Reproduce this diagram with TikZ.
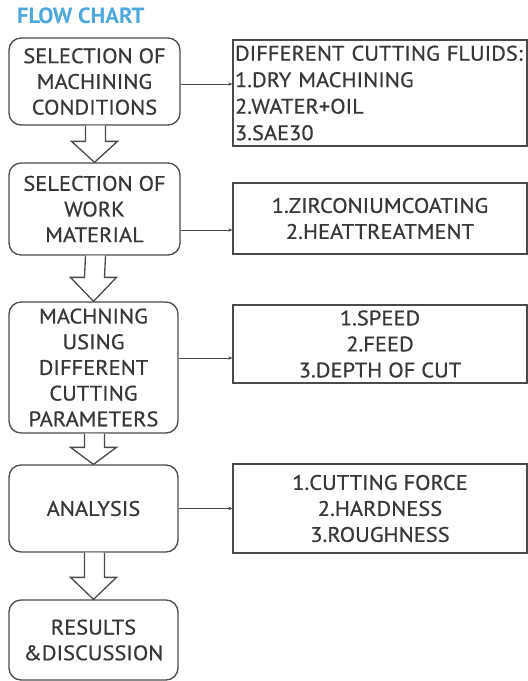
\documentclass[tikz,border=0pt]{standalone}
\usepackage{fontspec}
\setmainfont[FakeBold=0.6,FakeStretch=1.07]{PT Sans}
\newfontfamily\titlefont[FakeStretch=1.03]{PT Sans}
\usetikzlibrary{calc,arrows.meta}
\definecolor{txt}{HTML}{383838}
\definecolor{edge}{HTML}{4A4A4A}
\definecolor{ttl}{HTML}{4DA9DC}
\tikzset{
  stepbox/.style={draw=edge, line width=1.3pt, rounded corners=12pt, inner sep=0pt,
    text=txt, align=center, font=\fontsize{21}{25.7}\selectfont},
  infobox/.style={draw=edge, line width=1.3pt, inner sep=0pt, text=txt,
    font=\fontsize{21}{26}\selectfont},
  conn/.style={draw=edge, line width=0.7pt, -{Stealth[length=4pt,width=3.5pt]}},
  blockarrow/.style={draw=edge, line width=1.3pt, line join=miter, fill=white},
}
\begin{document}
\begin{tikzpicture}[x=1pt,y=1pt]
\useasboundingbox (0,0) rectangle (528,-681);
\fill[white] (0,0) rectangle (528,-681);

\node[anchor=west, text=ttl, font=\titlefont\fontsize{22}{26}\selectfont\bfseries, inner sep=0pt] (title) at (17,-16) {FLOW CHART};

% left column
\node[stepbox, minimum width=171pt, minimum height=87pt] (b1) at (94.5,-81.5) {SELECTION OF\\MACHINING\\CONDITIONS};
\node[stepbox, minimum width=171pt, minimum height=92pt] (b2) at (94.5,-209) {SELECTION OF\\WORK\\MATERIAL};
\node[stepbox, minimum width=169pt, minimum height=131pt] (b3) at (93.5,-367.5) {MACHNING\\USING\\DIFFERENT\\CUTTING\\PARAMETERS};
\node[stepbox, minimum width=169pt, minimum height=87pt] (b4) at (93.5,-508.5) {ANALYSIS};
\node[stepbox, minimum width=169pt, minimum height=80pt] (b5) at (93.5,-640) {RESULTS\\\&DISCUSSION};

% right column
\node[infobox, font=\fontsize{21}{26.5}\selectfont, minimum width=294pt, minimum height=106pt, align=left, text width=290pt, inner xsep=2pt] (r1) at (380,-93) {DIFFERENT CUTTING FLUIDS:\\1.DRY MACHINING\\2.WATER+OIL\\3.SAE30};
\node[infobox, minimum width=294pt, minimum height=71pt, align=center] (r2) at (380,-218.5) {1.ZIRCONIUMCOATING\\2.HEATTREATMENT};
\node[infobox, minimum width=294pt, minimum height=78pt, align=center] (r3) at (380,-344) {1.SPEED\\2.FEED\\3.DEPTH OF CUT};
\node[infobox, minimum width=294pt, minimum height=89pt, align=center] (r4) at (380,-508.5) {1.CUTTING FORCE\\2.HARDNESS\\3.ROUGHNESS};

% connectors
\coordinate (c1) at ([yshift=-2.5pt]b1.east);
\coordinate (c2) at ([yshift=-21pt]b2.east);
\coordinate (c3) at ([yshift=9.5pt]b3.east);
\coordinate (c4) at (b4.east);
\draw[conn] (c1) -- (c1 -| r1.west);
\draw[conn] (c2) -- (c2 -| r2.west);
\draw[conn] (c3) -- (c3 -| r3.west);
\draw[conn] (c4) -- (c4 -| r4.west);

% block arrows
\foreach \a/\b/\h in {b1/b2/21, b2/b3/24, b3/b4/17, b4/b5/22}{
  \draw[blockarrow] ($(\a.south)+(-9,0)$) -- ($(\b.north)+(-9,\h)$) -- ($(\b.north)+(-23,\h)$)
     -- (\b.north) -- ($(\b.north)+(23,\h)$) -- ($(\b.north)+(11,\h)$) -- ($(\a.south)+(11,0)$);
}
\end{tikzpicture}
\end{document}
